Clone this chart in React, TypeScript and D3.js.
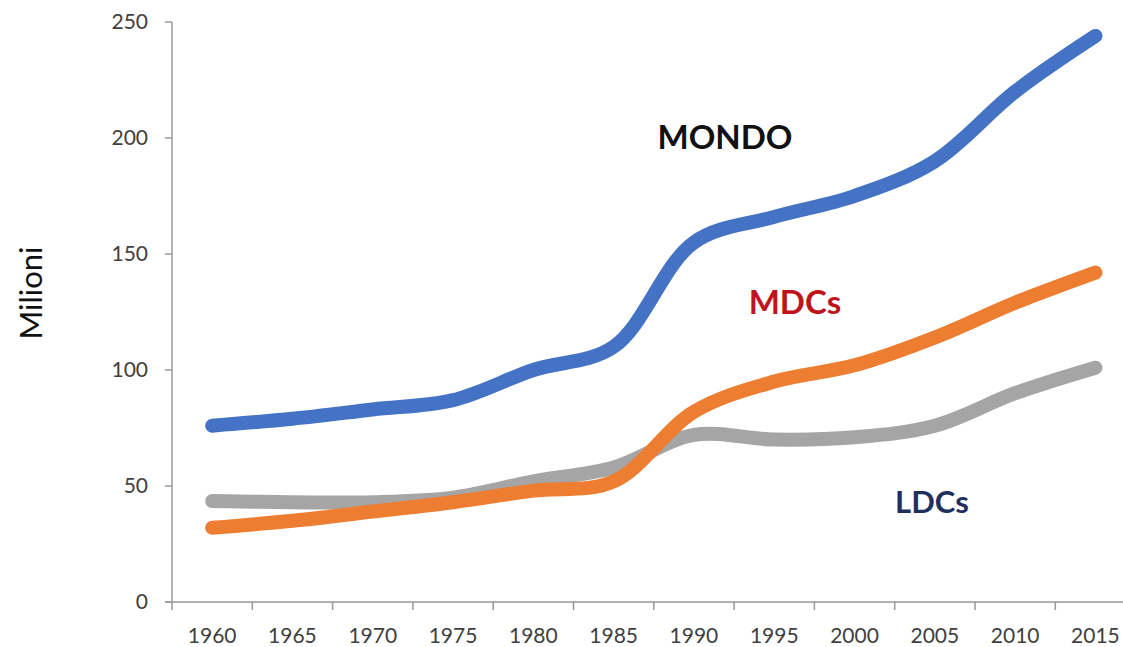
import React from "react";
import * as d3 from "d3";

const years = ["1960","1965","1970","1975","1980","1985","1990","1995","2000","2005","2010","2015"];
const mondo = [76, 79, 83, 87, 100, 110, 155, 166, 175, 190, 220, 244];
const mdcs = [32, 35, 39, 43, 48, 52, 82, 95, 102, 114, 129, 142];
const ldcs = [43.5, 43, 43, 45, 52, 58, 72, 70, 71, 76, 90, 101];
const yTicks = [0, 50, 100, 150, 200, 250];

const W = 1123, H = 647;
const left = 172, bottom = 602, top = 22;
const band = 80.3;

export default function App() {
  const x = d3.scaleBand<string>().domain(years).range([left, left + band * years.length]);
  const y = d3.scaleLinear().domain([0, 250]).range([bottom, top]);
  const line = d3.line<number>()
    .x((_, i) => (x(years[i]) as number) + x.bandwidth() / 2)
    .y((d) => y(d))
    .curve(d3.curveCatmullRom.alpha(0.5));
  const series = [
    { v: ldcs, c: "#A5A5A5" },
    { v: mdcs, c: "#ED7D31" },
    { v: mondo, c: "#4472C4" },
  ];
  const font = "Lato, 'Open Sans', sans-serif";
  const boundaries = d3.range(years.length + 1).map((i) => left + i * band);
  return (
    <svg width={W} height={H} style={{ position: "absolute", left: 0, top: 0, background: "#fff" }}>
      <rect width={W} height={H} fill="#fff" />
      <line x1={left} x2={left} y1={top} y2={bottom} stroke="#999" strokeWidth={1.5} />
      {yTicks.map((t) => (
        <g key={t}>
          <line x1={left - 7} x2={left} y1={y(t)} y2={y(t)} stroke="#999" strokeWidth={1.5} />
          <text x={148} y={y(t)} dy="0.35em" textAnchor="end" fontFamily={font} fontSize={21} fill="#404040">{t}</text>
        </g>
      ))}
      <line x1={left - 7} x2={W} y1={bottom} y2={bottom} stroke="#999" strokeWidth={1.5} />
      {boundaries.map((b, i) => (
        <line key={i} x1={b} x2={b} y1={bottom} y2={bottom + 8} stroke="#999" strokeWidth={1.5} />
      ))}
      {years.map((yr) => (
        <text key={yr} x={(x(yr) as number) + x.bandwidth() / 2} y={636} dy="0.35em" textAnchor="middle" fontFamily={font} fontSize={21} fill="#404040">{yr}</text>
      ))}
      <text transform={`translate(42,293) rotate(-90)`} textAnchor="middle" fontFamily={font} fontSize={31} fill="#111">Milioni</text>
      {series.map((s, i) => (
        <path key={i} d={line(s.v) || ""} fill="none" stroke={s.c} strokeWidth={14} strokeLinecap="round" strokeLinejoin="round" />
      ))}
      <text x={725} y={137} dy="0.35em" textAnchor="middle" fontFamily={font} fontWeight="bold" fontSize={33} fill="#111">MONDO</text>
      <text x={795} y={302} dy="0.35em" textAnchor="middle" fontFamily={font} fontWeight="bold" fontSize={33} fill="#C0141C">MDCs</text>
      <text x={932} y={502} dy="0.35em" textAnchor="middle" fontFamily={font} fontWeight="bold" fontSize={31} fill="#1F2F5E">LDCs</text>
    </svg>
  );
}
